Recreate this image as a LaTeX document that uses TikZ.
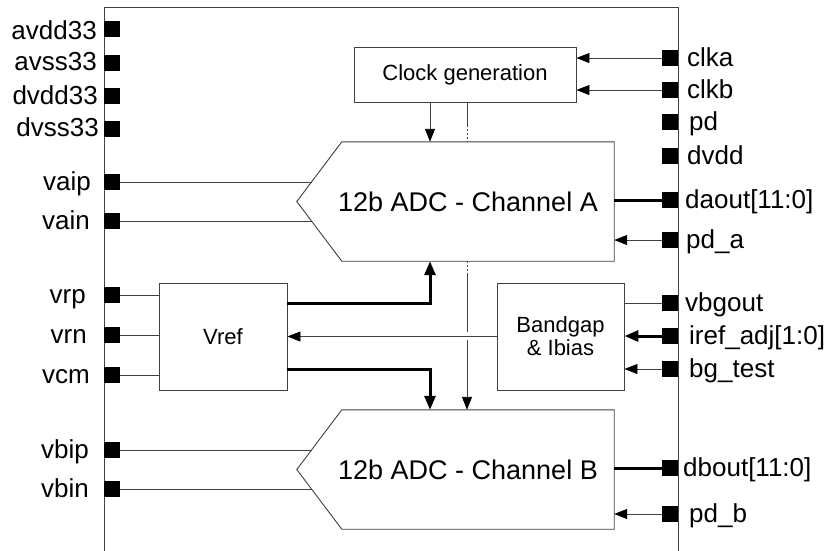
\documentclass[tikz,border=0pt]{standalone}
\usepackage{fontspec}
\setmainfont{Liberation Sans}
\usetikzlibrary{arrows.meta}

\begin{document}
\begin{tikzpicture}[x=1pt,y=-1pt,
  wire/.style={line width=0.9pt, draw=black!75},
  bus/.style={line width=3pt, draw=black},
  dotwire/.style={wire, dash pattern=on 2pt off 2pt},
  tipthin/.style={-{Triangle[length=13pt,width=10pt,color=black]}},
  tipthick/.style={-{Triangle[length=14pt,width=11pt,color=black]}},
  pad/.style={fill=black, inner sep=0pt, minimum size=16pt},
  pinlabel/.style={inner sep=0pt, font=\fontsize{26}{28}\selectfont},
  lpin/.style={pinlabel, anchor=base east},
  rpin/.style={pinlabel, anchor=base west},
  block/.style={draw=black!75, line width=0.9pt, inner sep=0pt, align=center,
                font=\fontsize{22}{25}\selectfont},
  adcbody/.style={inner sep=0pt, minimum width=272pt, minimum height=119pt},
  adctext/.style={inner sep=0pt, font=\fontsize{27}{29}\selectfont},
]
\useasboundingbox (0,0) rectangle (830,550);
\fill[white] (0,0) rectangle (830,550);

% chip outline, open at the bottom
\draw[wire] (104,551) -- (104,7) -- (678,7) -- (678,551);

% left-hand pads and their labels
\foreach \n/\y/\t/\x/\b in {avddA/29/avdd33/97/10, avssA/63/avss33/97/7,
    dvddA/96/dvdd33/98/8, dvssA/129/dvss33/99/7,
    vaip/182/vaip/91/8, vain/221/vain/90/8,
    vrp/295/vrp/86/8, vrn/335/vrn/87/8, vcm/375/vcm/90/8,
    vbip/450/vbip/89/8, vbin/489/vbin/89/8}{
  \node[pad] (\n) at (112,\y) {};
  \node[lpin] (\n-l) at (\x,\y+\b) {\t};
}

% right-hand pads and their labels
\foreach \n/\y/\t/\x in {clka/58/clka/687, clkb/90/clkb/687, pd/122/pd/689,
    dvdd/156/dvdd/687, daout/200/daout[11:0]/685, pda/240/pd\_a/686,
    vbgout/303/vbgout/685, iref/336/iref\_adj[1:0]/689,
    bgtest/369/bg\_test/689, dbout/468/dbout[11:0]/683, pdb/514/pd\_b/689}{
  \node[pad] (\n) at (670,\y) {};
  \node[rpin] (\n-l) at (\x,\y+8) {\t};
}

% function blocks
\node[block, minimum width=222pt, minimum height=55pt] (clk) at (465,74.5) {Clock generation};
\node[block, minimum width=128pt, minimum height=107pt] (vref) at (223,336.5) {Vref};
\node[block, minimum width=127pt, minimum height=107pt] (bg) at (560.5,336.5) {Bandgap\\[-2pt]\& Ibias};

% the two converters: rectangle body with a pointed input side
\node[adcbody] (adca) at (478,201.5) {};
\node[adcbody] (adcb) at (478,469.5) {};
\foreach \a in {adca,adcb}{
  \draw[wire] (\a.north west) -- (\a.north east) -- (\a.south east)
    -- (\a.south west) -- ([xshift=-45pt]\a.west) -- cycle;
}
\node[adctext] (adca-t) at (468,202) {12b ADC - Channel A};
\node[adctext] (adcb-t) at (468,470) {12b ADC - Channel B};

% helper coordinates for vertical runs and slanted inputs
\coordinate (slant) at (312,0);
\coordinate (ck1) at (430,0);
\coordinate (ck2) at (467,0);
\coordinate (ck2a) at (467,125);
\coordinate (ck2b) at (467,275);
\coordinate (hopA) at (467,332);
\coordinate (hopB) at (467,340);
\coordinate (refp) at (430,303);
\coordinate (refn) at (430,369);

% analog inputs
\foreach \p in {vaip,vain,vbip,vbin}{
  \draw[wire] (\p) -- (\p -| slant);
}
\foreach \p in {vrp,vrn,vcm}{
  \draw[wire] (\p) -- (\p -| vref.west);
}

% clocks
\draw[wire,tipthin] (clka) -- (clka -| clk.east);
\draw[wire,tipthin] (clkb) -- (clkb -| clk.east);
\draw[wire,tipthin] (clk.south -| ck1) -- (adca.north -| ck1);
\draw[wire] (clk.south -| ck2) -- (ck2a);
\draw[dotwire] (ck2a) -- (adca.north -| ck2);
\draw[dotwire] (adca.south -| ck2) -- (ck2b);
\draw[wire] (ck2b) -- (hopA);
\draw[wire,tipthin] (hopB) -- (adcb.north -| ck2);

% references
\draw[bus,tipthick] (vref.east |- refp) -- (refp) -- (adca.south -| refp);
\draw[bus,tipthick] (vref.east |- refn) -- (refn) -- (adcb.north -| refn);
\draw[wire,tipthin] (bg.west) -- (vref.east);

% bandgap pins
\draw[wire] (vbgout -| bg.east) -- (vbgout);
\draw[bus,tipthick] (iref) -- (iref -| bg.east);
\draw[wire,tipthin] (bgtest) -- (bgtest -| bg.east);

% converter outputs and power-down inputs
\draw[bus] (daout -| adca.east) -- (daout);
\draw[wire,tipthin] (pda) -- (pda -| adca.east);
\draw[bus] (dbout -| adcb.east) -- (dbout);
\draw[wire,tipthin] (pdb) -- (pdb -| adcb.east);
\end{tikzpicture}
\end{document}
